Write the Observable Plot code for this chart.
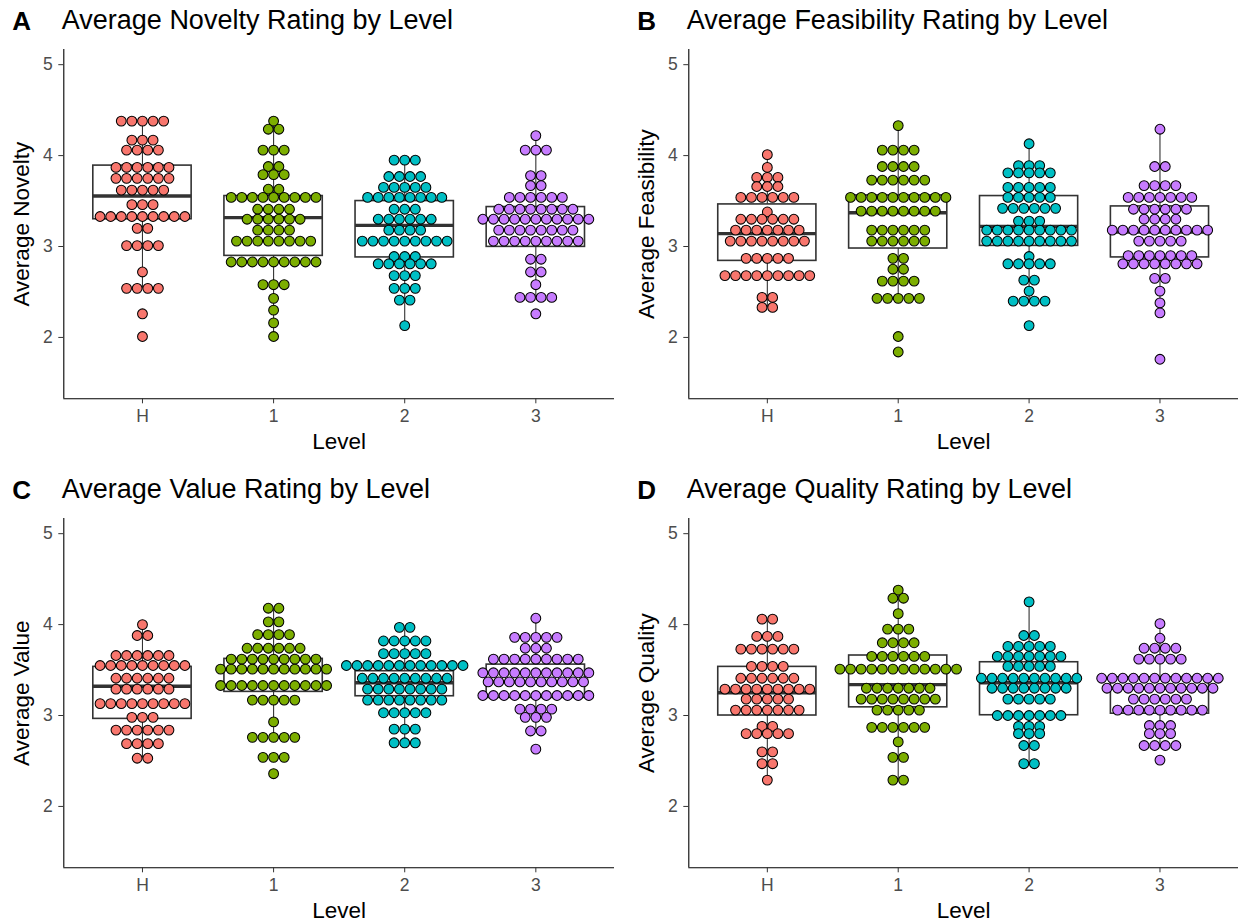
<!DOCTYPE html>
<html><head><meta charset="utf-8">
<script src="https://cdn.jsdelivr.net/npm/d3@7"></script>
<script src="https://cdn.jsdelivr.net/npm/@observablehq/plot@0.6"></script>
<style>
html,body{margin:0;padding:0;background:#fff;}
body{width:1238px;height:922px;overflow:hidden;position:relative;font-family:"Liberation Sans",Arial,sans-serif;}
.tag{position:absolute;font-weight:bold;line-height:1;color:#000;white-space:nowrap;}
.title{position:absolute;line-height:1;color:#000;white-space:nowrap;}
.chart{position:absolute;}
.chart svg g[aria-label="x-axis label"], .chart svg g[aria-label="y-axis label"]{fill:#000;font-size:22.5px;}
.chart svg g[aria-label="x-axis tick label"], .chart svg g[aria-label="y-axis tick label"]{fill:#4d4d4d;font-size:17.5px;}
</style></head><body>
<script>
// ---- categories & text ----
const levels = ["H", "1", "2", "3"];
const levelColors = ["#F8766D", "#7CAE00", "#00BFC4", "#C77CFF"];
const yTicks = [2, 3, 4, 5];
const panelTags = ["A", "B", "C", "D"];
const panelTitles = ["Average Novelty Rating by Level", "Average Feasibility Rating by Level",
                     "Average Value Rating by Level", "Average Quality Rating by Level"];
const yLabels = ["Average Novelty", "Average Feasibility", "Average Value", "Average Quality"];
const xLabel = "Level";

// ---- dot-plot bins: [rating bin, number of ideas] ----
const noveltyH = [[4.38,5],[4.17,3],[4.06,4],[3.87,6],[3.75,6],[3.62,5],[3.46,3],[3.33,9],[3.2,2],[3.01,4],[2.72,1],[2.54,4],[2.26,1],[2.01,1]];
const novelty1 = [[4.38,1],[4.29,2],[4.06,3],[3.88,2],[3.79,3],[3.63,2],[3.54,9],[3.41,4],[3.3,6],[3.18,4],[3.06,8],[2.83,9],[2.58,3],[2.43,1],[2.3,1],[2.16,1],[2.01,1]];
const novelty2 = [[3.95,3],[3.77,4],[3.65,5],[3.54,8],[3.41,3],[3.3,6],[3.18,4],[3.06,9],[2.89,3],[2.81,6],[2.68,3],[2.54,3],[2.41,2],[2.13,1]];
const novelty3 = [[4.22,1],[4.06,3],[3.78,2],[3.67,2],[3.54,6],[3.41,8],[3.3,11],[3.18,8],[3.06,9],[2.86,2],[2.72,2],[2.58,1],[2.44,4],[2.26,1]];

const feasibilityH = [[4.01,1],[3.87,1],[3.76,3],[3.66,3],[3.54,6],[3.38,1],[3.3,6],[3.18,7],[3.06,8],[2.87,5],[2.68,9],[2.44,2],[2.33,2]];
const feasibility1 = [[4.33,1],[4.06,4],[3.88,4],[3.73,6],[3.54,10],[3.39,8],[3.18,6],[3.06,6],[2.87,2],[2.75,2],[2.62,4],[2.43,5],[2.01,1],[1.84,1]];
const feasibility2 = [[4.13,1],[3.89,3],[3.81,5],[3.65,5],[3.54,5],[3.42,6],[3.28,3],[3.18,9],[3.06,9],[2.89,1],[2.81,5],[2.63,2],[2.51,1],[2.4,4],[2.13,1]];
const feasibility3 = [[4.29,1],[3.88,2],[3.67,4],[3.54,7],[3.41,6],[3.3,4],[3.18,10],[3.06,5],[2.9,7],[2.81,8],[2.65,2],[2.51,1],[2.38,1],[2.27,1],[1.76,1]];

const valueH = [[4.0,1],[3.88,2],[3.66,6],[3.55,9],[3.41,6],[3.29,6],[3.13,9],[2.98,3],[2.84,6],[2.69,4],[2.53,2]];
const value1 = [[4.18,2],[4.03,2],[3.89,4],[3.74,6],[3.62,9],[3.51,11],[3.33,11],[3.17,5],[2.93,1],[2.76,5],[2.54,3],[2.36,1]];
const value2 = [[3.97,2],[3.82,5],[3.68,5],[3.55,12],[3.41,9],[3.29,8],[3.17,8],[3.03,5],[2.85,3],[2.7,3]];
const value3 = [[4.07,1],[3.86,5],[3.74,3],[3.62,9],[3.47,11],[3.37,10],[3.22,11],[3.07,4],[2.98,3],[2.83,2],[2.63,1]];

const qualityH = [[4.06,2],[3.87,3],[3.73,6],[3.54,4],[3.41,6],[3.29,9],[3.18,5],[3.06,7],[2.88,2],[2.8,5],[2.6,2],[2.47,2],[2.29,1]];
const quality1 = [[4.38,1],[4.29,2],[4.12,1],[3.95,3],[3.8,4],[3.65,6],[3.51,12],[3.3,7],[3.18,8],[3.06,5],[2.87,6],[2.71,1],[2.54,2],[2.29,2]];
const quality2 = [[4.25,1],[3.88,2],[3.76,5],[3.65,7],[3.54,5],[3.41,10],[3.3,8],[3.18,5],[3.0,7],[2.88,3],[2.8,3],[2.67,2],[2.47,2]];
const quality3 = [[4.01,1],[3.85,1],[3.74,4],[3.62,5],[3.41,12],[3.3,11],[3.18,6],[3.06,9],[2.89,3],[2.8,3],[2.67,4],[2.51,1]];

// ---- box statistics per level: [lower whisker, Q1, median, Q3, upper whisker] ----
const noveltyBox = [[2.54,3.30,3.555,3.89,4.38],[2.01,2.897,3.318,3.555,4.38],[2.13,2.88,3.233,3.50,3.95],[2.44,2.996,3.30,3.434,4.22]];
const feasibilityBox = [[2.33,2.842,3.142,3.463,4.01],[2.43,2.978,3.372,3.562,4.33],[2.40,3.007,3.222,3.555,4.13],[2.27,2.88,3.16,3.441,4.29]];
const valueBox = [[2.53,2.963,3.322,3.535,4.0],[2.76,3.26,3.505,3.623,4.18],[2.70,3.212,3.36,3.487,3.97],[2.83,3.195,3.37,3.56,4.07]];
const qualityBox = [[2.29,3.0,3.25,3.535,4.06],[2.29,3.09,3.34,3.66,4.38],[2.47,3.003,3.36,3.586,4.25],[2.67,3.02,3.30,3.42,4.01]];

const panelBins = [
  [noveltyH, novelty1, novelty2, novelty3],
  [feasibilityH, feasibility1, feasibility2, feasibility3],
  [valueH, value1, value2, value3],
  [qualityH, quality1, quality2, quality3]
];
const panelBoxes = [noveltyBox, feasibilityBox, valueBox, qualityBox];

// ---- layout ----
const xDomain = [0.4, 4.6];
const yDomain = [1.325, 5.167];
const W = 619, H = 412, MT = 9, MB = 53.7;
const dotStep = 10.6;   // px between stacked dot centres
const boxHalf = 0.375;
const titleSize = 27, tagSize = 26;

function makePanel(i) {
  const col = i % 2, row = Math.floor(i / 2);
  const left = col * 619, top = row * 469.3;
  const marginLeft = col === 0 ? 63.3 : 69.3;
  const marginRight = col === 0 ? 5 : 0;
  const ppu = (W - marginLeft - marginRight) / (xDomain[1] - xDomain[0]);
  const pts = [];
  panelBins[i].forEach((bins, g) => {
    bins.forEach(([v, n]) => {
      for (let k = 0; k < n; k++) {
        pts.push({level: levels[g], x: g + 1 + (k - (n - 1) / 2) * dotStep / ppu, y: v});
      }
    });
  });
  const boxes = panelBoxes[i].map(([lo, q1, med, q3, hi], g) => ({g: g + 1, lo, q1, med, q3, hi}));

  const chart = Plot.plot({
    width: W, height: H, marginLeft, marginRight, marginTop: MT, marginBottom: MB,
    style: {fontFamily: '"Liberation Sans", Arial, sans-serif', fontSize: "17.5px", color: "#333", background: "transparent", overflow: "visible"},
    x: {domain: xDomain},
    y: {domain: yDomain},
    color: {type: "ordinal", domain: levels, range: levelColors},
    marks: [
      Plot.ruleX(boxes, {x: "g", y1: "lo", y2: "q1", stroke: "#333", strokeWidth: 1.1}),
      Plot.ruleX(boxes, {x: "g", y1: "q3", y2: "hi", stroke: "#333", strokeWidth: 1.1}),
      Plot.rect(boxes, {x1: d => d.g - boxHalf, x2: d => d.g + boxHalf, y1: "q1", y2: "q3", fill: "white", stroke: "#333", strokeWidth: 1.6}),
      Plot.ruleY(boxes, {x1: d => d.g - boxHalf, x2: d => d.g + boxHalf, y: "med", stroke: "#333", strokeWidth: 3.4}),
      Plot.dot(pts, {x: "x", y: "y", r: 4.9, fill: "level", stroke: "black", strokeWidth: 1.05}),
      Plot.ruleX([xDomain[0]], {stroke: "black", strokeWidth: 1.1}),
      Plot.ruleY([yDomain[0]], {stroke: "black", strokeWidth: 1.1}),
      Plot.axisX({ticks: [1, 2, 3, 4], tickFormat: d => levels[d - 1], tickSize: 5, tickPadding: 6,
                  stroke: "#333", label: xLabel, labelAnchor: "center", labelArrow: "none", labelOffset: 49.8}),
      Plot.axisY({ticks: yTicks, tickFormat: d => String(d), tickSize: 5, tickPadding: 6, stroke: "#333",
                  label: yLabels[i], labelAnchor: "center", labelArrow: "none", labelOffset: 51})
    ]
  });
  const wrap = document.createElement("div");
  wrap.className = "chart";
  wrap.style.left = left + "px";
  wrap.style.top = (top + 40) + "px";
  wrap.appendChild(chart);
  document.body.appendChild(wrap);

  const axisX = left + marginLeft;
  const baseline = top + 30;
  const tag = document.createElement("div");
  tag.className = "tag";
  tag.textContent = panelTags[i];
  tag.style.fontSize = tagSize + "px";
  tag.style.left = (axisX - 51) + "px";
  tag.style.top = (baseline - 0.8465 * tagSize) + "px";
  document.body.appendChild(tag);

  const title = document.createElement("div");
  title.className = "title";
  title.textContent = panelTitles[i];
  title.style.fontSize = titleSize + "px";
  title.style.left = (axisX - 1.5) + "px";
  title.style.top = (baseline - 0.8465 * titleSize) + "px";
  document.body.appendChild(title);
}
for (let i = 0; i < 4; i++) makePanel(i);
</script>
</body></html>
